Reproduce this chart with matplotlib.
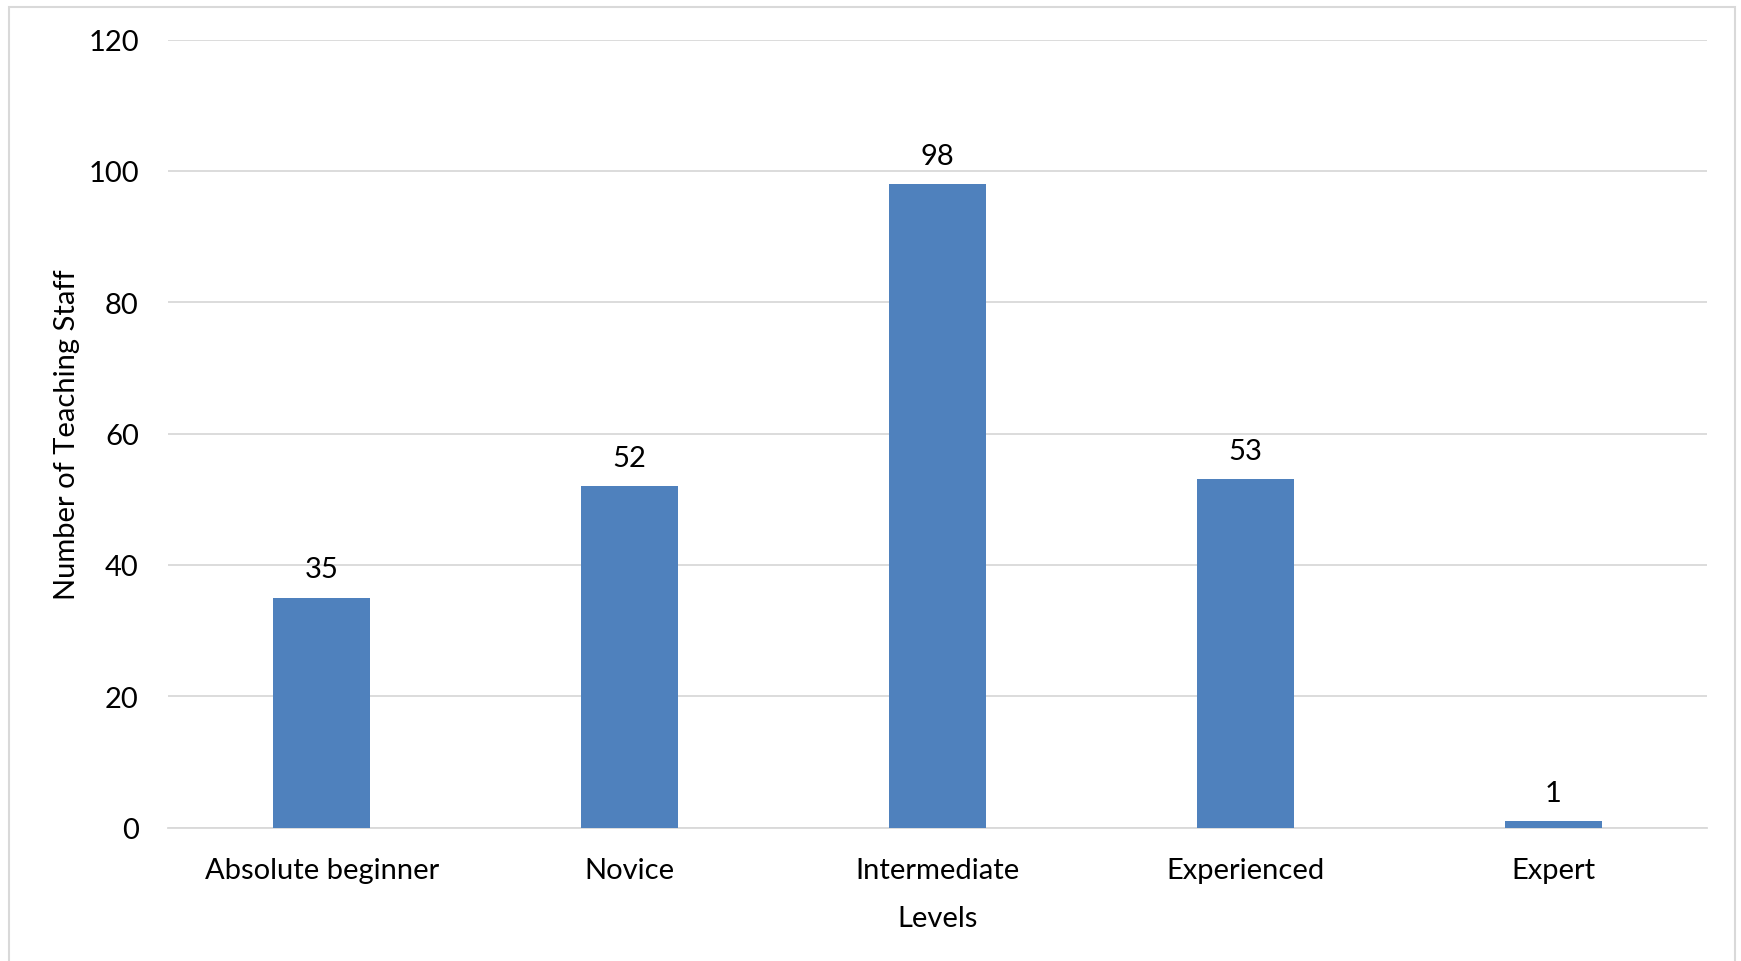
import matplotlib
matplotlib.use("Agg")
import matplotlib.pyplot as plt
from matplotlib.patches import Rectangle

categories = ["Absolute beginner", "Novice", "Intermediate", "Experienced", "Expert"]
values = [35, 52, 98, 53, 1]
y_ticks = [0, 20, 40, 60, 80, 100, 120]

plt.rcParams['font.family'] = ['Lato', 'DejaVu Sans']

W, H = 1741, 962
FS = 21
fig = plt.figure(figsize=(W / 100, H / 100), dpi=100)
ax = fig.add_axes([168 / W, 1 - 828.5 / H, (1707 - 168) / W, (828.5 - 40.5) / H])

x = list(range(len(categories)))
ax.bar(x, values, width=0.315, color="#4F81BD", zorder=3)
for xi, v in zip(x, values):
    ax.annotate(str(v), (xi, v), xytext=(0, 11), textcoords="offset points",
                ha="center", va="bottom", fontsize=FS, color="#000000")

ax.set_xlim(-0.5, len(categories) - 0.5)
ax.set_ylim(0, 120)
ax.set_yticks(y_ticks)
ax.set_yticklabels([str(t) for t in y_ticks], fontsize=FS)
ax.set_xticks(x)
ax.set_xticklabels(categories, fontsize=FS)
ax.tick_params(axis="both", length=0, colors="#000000")
ax.tick_params(axis="y", pad=21)
ax.tick_params(axis="x", pad=21.5)
ax.grid(axis="y", color="#D9D9D9", linewidth=1.3, zorder=0)
for s in ["top", "right", "left"]:
    ax.spines[s].set_visible(False)
ax.spines["bottom"].set_color("#D9D9D9")
ax.spines["bottom"].set_linewidth(1.3)

ax.set_xlabel("Levels", fontsize=FS, labelpad=15.5)
ax.set_ylabel("Number of Teaching Staff", fontsize=FS, labelpad=6)

fig.patches.append(Rectangle((9 / W, -0.01), (1735 - 9) / W, 1 - 8 / H + 0.01,
                             transform=fig.transFigure, fill=False,
                             edgecolor="#D9D9D9", linewidth=1.5))

fig.savefig("out.png", dpi=100)
